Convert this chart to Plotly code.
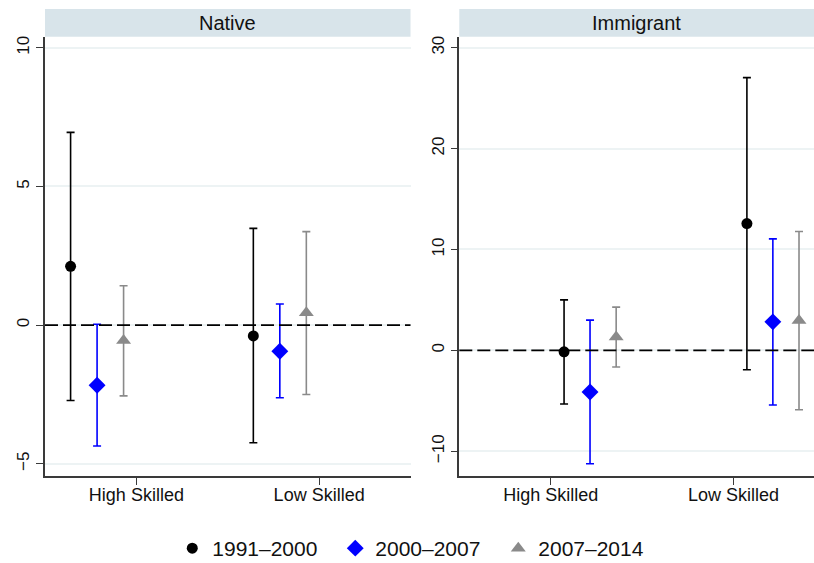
import plotly.graph_objects as go

# ---- data -------------------------------------------------------------
skills = ["High Skilled", "Low Skilled"]
periods = ["1991–2000", "2000–2007", "2007–2014"]

native_coef = [[2.12, -0.39], [-2.17, -0.94], [-0.55, 0.45]]
native_lo = [[-2.72, -4.24], [-4.36, -2.62], [-2.55, -2.50]]
native_hi = [[6.95, 3.49], [0.03, 0.76], [1.42, 3.37]]

immig_coef = [[-0.14, 12.57], [-4.13, 2.83], [1.32, 2.95]]
immig_lo = [[-5.32, -1.92], [-11.23, -5.42], [-1.65, -5.88]]
immig_hi = [[5.01, 27.03], [3.00, 11.05], [4.29, 11.78]]

native_ticks = [-5, 0, 5, 10]
immig_ticks = [-10, 0, 10, 20, 30]

# ---- styling ----------------------------------------------------------
FONT = "Liberation Sans, Arial, Helvetica, sans-serif"
colors = ["#000000", "#0000ff", "#8a8a8a"]
symbols = ["circle", "diamond", "triangle-up"]
msizes = [11, 13, 13]
native_shift = [-0.36, -0.215, -0.07]
immig_shift = [0.073, 0.215, 0.358]
AXIS = "#3a3a3a"
GRID = "#edf3f4"
STRIP = "#d8e4ea"

fig = go.Figure()


def add_panel(coef, lo, hi, shifts, xa, ya, legend):
    for k, name in enumerate(periods):
        xs = [i + 1 + shifts[k] for i in range(len(skills))]
        fig.add_trace(go.Scatter(
            x=xs, y=coef[k], mode="markers", name=name,
            xaxis=xa, yaxis=ya, showlegend=legend,
            marker=dict(symbol=symbols[k], size=msizes[k], color=colors[k],
                        line=dict(width=0)),
            error_y=dict(type="data", symmetric=False,
                         array=[h - c for h, c in zip(hi[k], coef[k])],
                         arrayminus=[c - l for c, l in zip(coef[k], lo[k])],
                         color=colors[k], thickness=1.6, width=4),
        ))


add_panel(native_coef, native_lo, native_hi, native_shift, "x", "y", True)
add_panel(immig_coef, immig_lo, immig_hi, immig_shift, "x2", "y2", False)

W, H = 814, 563
ytop = 1 - 36.7 / H
ybot = 1 - 476 / H
dom1 = [45 / W, 410.5 / W]
dom2 = [459.3 / W, 1.0]

xcommon = dict(tickvals=[1, 2], ticktext=skills, showgrid=False,
               zeroline=False, showline=True, linecolor=AXIS, linewidth=1.5,
               ticks="outside", ticklen=7, tickwidth=1.3, tickcolor=AXIS,
               ticklabelstandoff=-5,
               tickfont=dict(size=18, color="#111", family=FONT))
ycommon = dict(showgrid=True, gridcolor=GRID, gridwidth=1.5, zeroline=False,
               showline=True, linecolor=AXIS, linewidth=1.5,
               ticks="outside", ticklen=7, tickwidth=1.3, tickcolor=AXIS,
               tickangle=-90,
               tickfont=dict(size=17, color="#111", family=FONT))

fig.update_layout(
    width=W, height=H,
    margin=dict(l=0, r=0, t=0, b=0, autoexpand=False),
    paper_bgcolor="white", plot_bgcolor="white",
    font=dict(family=FONT, color="#111"),
    xaxis=dict(domain=dom1, range=[0.5, 2.5], anchor="y", **xcommon),
    xaxis2=dict(domain=dom2, range=[0.5, 2.44], anchor="y2", **xcommon),
    yaxis=dict(domain=[ybot, ytop], range=[-5.44, 10.4], anchor="x",
               tickvals=native_ticks, **ycommon),
    yaxis2=dict(domain=[ybot, ytop], range=[-12.45, 31.09], anchor="x2",
                tickvals=immig_ticks, **ycommon),
    legend=dict(orientation="h", x=0.512, xanchor="center",
                y=1 - 528 / H, yanchor="top",
                font=dict(size=21, family=FONT, color="#111"),
                itemsizing="trace", traceorder="normal",
                entrywidth=118, entrywidthmode="pixels"),
    showlegend=True,
)

# reference line at zero and header strips for each panel
strip_y0 = ytop
strip_y1 = 1 - 9 / H
for xa, ya, dom, title in [("x", "y", dom1, "Native"),
                           ("x2", "y2", dom2, "Immigrant")]:
    fig.add_shape(type="line", xref=f"{xa} domain", yref=ya,
                  x0=0, x1=1, y0=0, y1=0,
                  line=dict(color="black", width=1.6, dash="13px,5px"))
    fig.add_shape(type="rect", xref="paper", yref="paper",
                  x0=dom[0], x1=dom[1], y0=strip_y0, y1=strip_y1,
                  fillcolor=STRIP, line=dict(width=0), layer="below")
    fig.add_annotation(text=title, xref="paper", yref="paper",
                       x=(dom[0] + dom[1]) / 2, y=(strip_y0 + strip_y1) / 2,
                       xanchor="center", yanchor="middle", showarrow=False,
                       font=dict(size=20, family=FONT, color="#111"))

fig.write_html("out.html")
